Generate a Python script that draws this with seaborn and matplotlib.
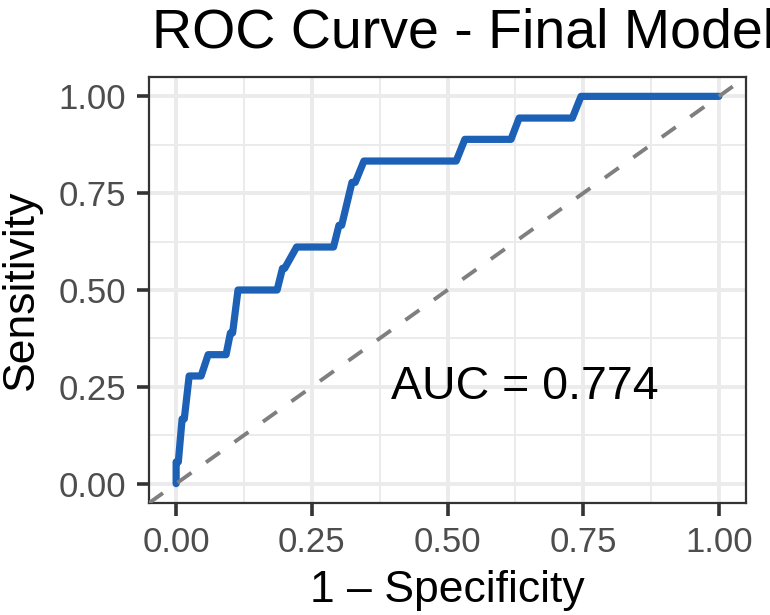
import matplotlib
matplotlib.use("Agg")
import matplotlib.pyplot as plt
import seaborn as sns
import pandas as pd

# ROC path (1 - specificity, sensitivity)
fpr = [0.000, 0.000, 0.004, 0.011, 0.015, 0.024, 0.046, 0.059, 0.092, 0.100,
       0.104, 0.114, 0.186, 0.196, 0.200, 0.222, 0.290, 0.300, 0.305, 0.324,
       0.330, 0.346, 0.516, 0.532, 0.617, 0.632, 0.730, 0.746, 1.000]
tpr = [0.000, 0.056, 0.056, 0.167, 0.167, 0.278, 0.278, 0.333, 0.333, 0.389,
       0.389, 0.500, 0.500, 0.556, 0.556, 0.611, 0.611, 0.667, 0.667, 0.778,
       0.778, 0.833, 0.833, 0.889, 0.889, 0.944, 0.944, 1.000, 1.000]
auc_label = "AUC = 0.774"
ticks = [0.0, 0.25, 0.5, 0.75, 1.0]
minor_ticks = [0.125, 0.375, 0.625, 0.875]
tick_labels = ["0.00", "0.25", "0.50", "0.75", "1.00"]

df = pd.DataFrame({"fpr": fpr, "tpr": tpr})

sns.set_theme(style="white")
plt.rcParams["font.family"] = ["Liberation Sans", "DejaVu Sans"]

fig = plt.figure(figsize=(7.7, 6.15), dpi=100)
ax = fig.add_axes([149/770, 1-503/615, (746-149)/770, (503-77)/615])

ax.set_xlim(-0.05, 1.05)
ax.set_ylim(-0.05, 1.05)

# grid like theme_bw
for v in minor_ticks:
    ax.axvline(v, color="#EBEBEB", lw=1.4, zorder=0)
    ax.axhline(v, color="#EBEBEB", lw=1.4, zorder=0)
for v in ticks:
    ax.axvline(v, color="#EBEBEB", lw=2.8, zorder=0)
    ax.axhline(v, color="#EBEBEB", lw=2.8, zorder=0)

sns.lineplot(data=df, x="fpr", y="tpr", sort=False, estimator=None, ax=ax,
             color="#1c61b6", lw=5.2, solid_capstyle="round",
             solid_joinstyle="round", zorder=2)
ax.axline((0, 0), slope=1, color="#7F7F7F", lw=2.8, ls=(0, (4.4, 4.6)),
          dash_capstyle="butt", zorder=3)

ax.text(0.643, 0.25, auc_label, fontsize=33.5, ha="center", va="center", color="black")

ax.set_xticks(ticks)
ax.set_xticklabels(tick_labels)
ax.set_yticks(ticks)
ax.set_yticklabels(tick_labels)
ax.tick_params(axis="both", labelsize=25, labelcolor="#4D4D4D", color="#333333",
               length=9, width=2.6, direction="out", bottom=True, left=True, pad=7.5)
for s in ax.spines.values():
    s.set_color("#333333")
    s.set_linewidth(1.6)

ax.set_xlabel("1 \u2013 Specificity", fontsize=32, labelpad=8, color="black")
ax.set_ylabel("Sensitivity", fontsize=32, labelpad=12, color="black")

fig.text(152/770, 1-47/615, "ROC Curve - Final Model", fontsize=40, ha="left",
         va="baseline", color="black")

fig.savefig("out.png", dpi=100)
